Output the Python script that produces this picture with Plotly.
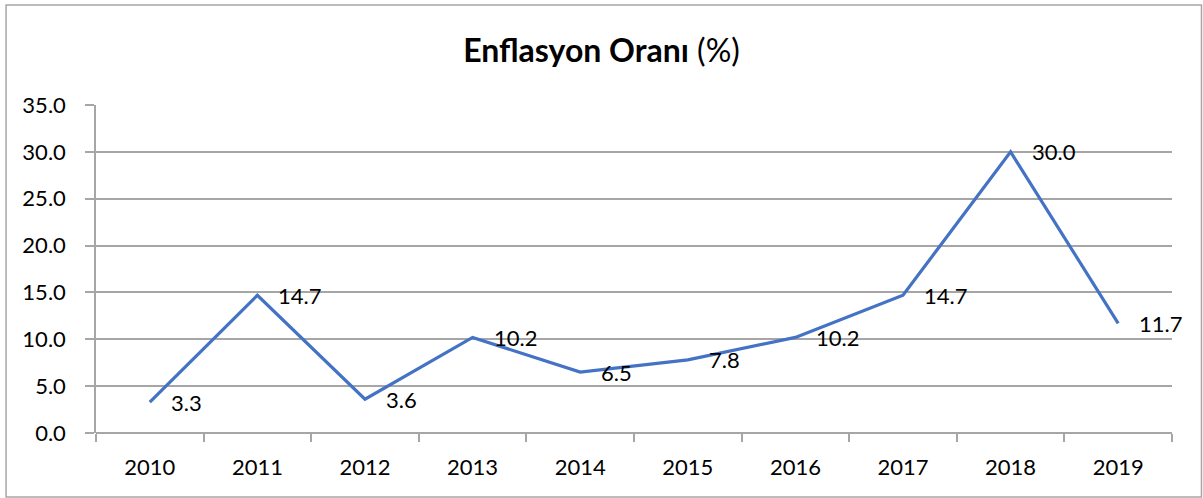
import plotly.graph_objects as go

years = ["2010", "2011", "2012", "2013", "2014", "2015", "2016", "2017", "2018", "2019"]
rates = [3.3, 14.7, 3.6, 10.2, 6.5, 7.8, 10.2, 14.7, 30.0, 11.7]
y_ticks = [0, 5, 10, 15, 20, 25, 30, 35]

FONT = "Lato"
fig = go.Figure()
fig.add_trace(go.Scatter(
    x=years, y=rates, mode="lines",
    line=dict(color="#4472C4", width=3.2),
    hoverinfo="x+y", showlegend=False,
))
for i, v in enumerate(rates):
    fig.add_annotation(x=i, y=v, text=f"{v:.1f}", showarrow=False,
                       xanchor="left", yanchor="middle", xshift=19,
                       font=dict(family=FONT, size=22, color="#000000"))

fig.add_shape(type="rect", xref="paper", yref="paper",
              x0=-0.0836, x1=1.0274, y0=-0.195, y1=1.305,
              line=dict(color="#A6A6A6", width=1.5), fillcolor="rgba(0,0,0,0)")

fig.update_layout(
    width=1203, height=498,
    margin=dict(l=96, r=31, t=105, b=65),
    paper_bgcolor="white", plot_bgcolor="white",
    font=dict(family=FONT, size=22, color="#000000"),
    title=dict(text="<b>Enflasyon Oranı</b> (%)", x=0.5, xanchor="center",
               y=0.898, yanchor="middle", font=dict(family=FONT, size=32, color="#000000")),
)
fig.update_xaxes(type="category", categoryorder="array", categoryarray=years,
                 range=[-0.5, len(years) - 0.5], tickangle=0,
                 showgrid=False, showline=False,
                 ticks="outside", tickson="boundaries", ticklen=8,
                 tickcolor="#A6A6A6", tickwidth=1.5,
                 tickfont=dict(family=FONT, size=22), ticklabelstandoff=19)
fig.update_yaxes(range=[0, 35], tickvals=y_ticks, tickformat=".1f",
                 showgrid=True, gridcolor="#A6A6A6", gridwidth=1.5,
                 showline=True, linecolor="#A6A6A6", linewidth=1.5,
                 zeroline=True, zerolinecolor="#A6A6A6", zerolinewidth=1.5,
                 ticks="outside", ticklen=9, tickcolor="#A6A6A6", tickwidth=1.5,
                 tickfont=dict(family=FONT, size=22), ticklabelstandoff=15)

fig.write_html("out.html", config={"displayModeBar": False},
               post_script="document.body.style.margin='0';")
